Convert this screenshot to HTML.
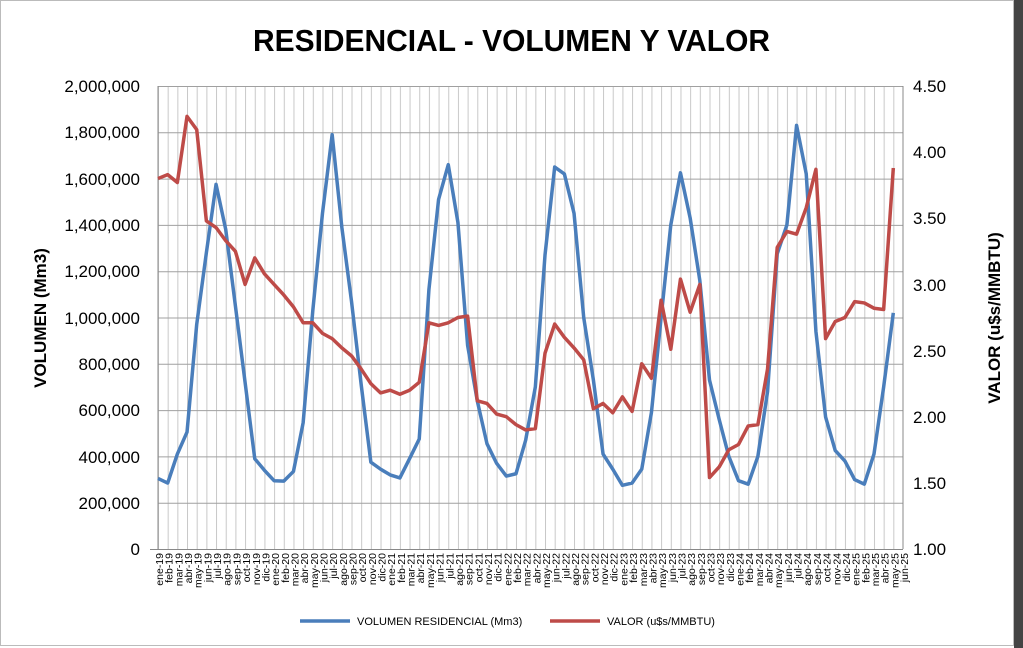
<!DOCTYPE html>
<html><head><meta charset="utf-8"><style>
body{margin:0;background:#fff}
svg{display:block;font-family:"Liberation Sans",sans-serif}
</style></head><body>
<svg width="1023" height="648" viewBox="0 0 1023 648" xmlns="http://www.w3.org/2000/svg">
<rect x="0" y="0" width="1023" height="648" fill="#fff"/>
<rect x="0.5" y="0.5" width="1013" height="645" fill="none" stroke="#bbb"/>
<rect x="1014" y="0" width="9" height="648" fill="#444"/>
<text x="253" y="51" textLength="517" lengthAdjust="spacingAndGlyphs" font-size="31" font-weight="bold" fill="#000">RESIDENCIAL - VOLUMEN Y VALOR</text>
<defs>
<pattern id="vg" x="158" y="0" width="9.6753" height="10" patternUnits="userSpaceOnUse">
<line x1="0.5" y1="0" x2="0.5" y2="10" stroke="#c8c8c8" stroke-width="1"/>
</pattern>
</defs>
<rect x="158" y="86" width="745" height="463" fill="url(#vg)"/>
<g stroke="#a0a0a0" stroke-width="1">
<line x1="158" y1="86.5" x2="903" y2="86.5"/>
<line x1="158" y1="132.8" x2="903" y2="132.8"/>
<line x1="158" y1="179.1" x2="903" y2="179.1"/>
<line x1="158" y1="225.4" x2="903" y2="225.4"/>
<line x1="158" y1="271.7" x2="903" y2="271.7"/>
<line x1="158" y1="318" x2="903" y2="318"/>
<line x1="158" y1="364.3" x2="903" y2="364.3"/>
<line x1="158" y1="410.6" x2="903" y2="410.6"/>
<line x1="158" y1="456.9" x2="903" y2="456.9"/>
<line x1="158" y1="503.2" x2="903" y2="503.2"/>
<line x1="150" y1="549.5" x2="903" y2="549.5" stroke="#888"/>
<line x1="158" y1="86" x2="158" y2="549" stroke="#888"/>
<line x1="903" y1="86" x2="903" y2="549" stroke="#888"/>
</g>
<g font-size="17" fill="#000" text-anchor="end">
<text x="140" y="92">2,000,000</text>
<text x="140" y="138">1,800,000</text>
<text x="140" y="185">1,600,000</text>
<text x="140" y="231">1,400,000</text>
<text x="140" y="277">1,200,000</text>
<text x="140" y="324">1,000,000</text>
<text x="140" y="370">800,000</text>
<text x="140" y="416">600,000</text>
<text x="140" y="463">400,000</text>
<text x="140" y="509">200,000</text>
<text x="140" y="555">0</text>
</g>
<g font-size="17" fill="#000" text-anchor="start">
<text x="913" y="92">4.50</text>
<text x="913" y="158">4.00</text>
<text x="913" y="224">3.50</text>
<text x="913" y="291">3.00</text>
<text x="913" y="357">2.50</text>
<text x="913" y="423">2.00</text>
<text x="913" y="489">1.50</text>
<text x="913" y="555">1.00</text>
</g>
<text transform="translate(46,318) rotate(-90)" text-anchor="middle" font-size="17" font-weight="bold">VOLUMEN (Mm3)</text>
<text transform="translate(1000,318) rotate(-90)" text-anchor="middle" font-size="17" font-weight="bold">VALOR (u$s/MMBTU)</text>
<g font-size="10.5" fill="#000" text-anchor="end">
<text transform="translate(163,553) rotate(-90)">ene-19</text>
<text transform="translate(172.7,553) rotate(-90)">feb-19</text>
<text transform="translate(182.4,553) rotate(-90)">mar-19</text>
<text transform="translate(192,553) rotate(-90)">abr-19</text>
<text transform="translate(201.7,553) rotate(-90)">may-19</text>
<text transform="translate(211.4,553) rotate(-90)">jun-19</text>
<text transform="translate(221,553) rotate(-90)">jul-19</text>
<text transform="translate(230.7,553) rotate(-90)">ago-19</text>
<text transform="translate(240.4,553) rotate(-90)">sep-19</text>
<text transform="translate(250.1,553) rotate(-90)">oct-19</text>
<text transform="translate(259.8,553) rotate(-90)">nov-19</text>
<text transform="translate(269.4,553) rotate(-90)">dic-19</text>
<text transform="translate(279.1,553) rotate(-90)">ene-20</text>
<text transform="translate(288.8,553) rotate(-90)">feb-20</text>
<text transform="translate(298.5,553) rotate(-90)">mar-20</text>
<text transform="translate(308.1,553) rotate(-90)">abr-20</text>
<text transform="translate(317.8,553) rotate(-90)">may-20</text>
<text transform="translate(327.5,553) rotate(-90)">jun-20</text>
<text transform="translate(337.2,553) rotate(-90)">jul-20</text>
<text transform="translate(346.8,553) rotate(-90)">ago-20</text>
<text transform="translate(356.5,553) rotate(-90)">sep-20</text>
<text transform="translate(366.2,553) rotate(-90)">oct-20</text>
<text transform="translate(375.9,553) rotate(-90)">nov-20</text>
<text transform="translate(385.5,553) rotate(-90)">dic-20</text>
<text transform="translate(395.2,553) rotate(-90)">ene-21</text>
<text transform="translate(404.9,553) rotate(-90)">feb-21</text>
<text transform="translate(414.6,553) rotate(-90)">mar-21</text>
<text transform="translate(424.2,553) rotate(-90)">abr-21</text>
<text transform="translate(433.9,553) rotate(-90)">may-21</text>
<text transform="translate(443.6,553) rotate(-90)">jun-21</text>
<text transform="translate(453.3,553) rotate(-90)">jul-21</text>
<text transform="translate(462.9,553) rotate(-90)">ago-21</text>
<text transform="translate(472.6,553) rotate(-90)">sep-21</text>
<text transform="translate(482.3,553) rotate(-90)">oct-21</text>
<text transform="translate(492,553) rotate(-90)">nov-21</text>
<text transform="translate(501.6,553) rotate(-90)">dic-21</text>
<text transform="translate(511.3,553) rotate(-90)">ene-22</text>
<text transform="translate(521,553) rotate(-90)">feb-22</text>
<text transform="translate(530.7,553) rotate(-90)">mar-22</text>
<text transform="translate(540.3,553) rotate(-90)">abr-22</text>
<text transform="translate(550,553) rotate(-90)">may-22</text>
<text transform="translate(559.7,553) rotate(-90)">jun-22</text>
<text transform="translate(569.4,553) rotate(-90)">jul-22</text>
<text transform="translate(579,553) rotate(-90)">ago-22</text>
<text transform="translate(588.7,553) rotate(-90)">sep-22</text>
<text transform="translate(598.4,553) rotate(-90)">oct-22</text>
<text transform="translate(608.1,553) rotate(-90)">nov-22</text>
<text transform="translate(617.7,553) rotate(-90)">dic-22</text>
<text transform="translate(627.4,553) rotate(-90)">ene-23</text>
<text transform="translate(637.1,553) rotate(-90)">feb-23</text>
<text transform="translate(646.8,553) rotate(-90)">mar-23</text>
<text transform="translate(656.4,553) rotate(-90)">abr-23</text>
<text transform="translate(666.1,553) rotate(-90)">may-23</text>
<text transform="translate(675.8,553) rotate(-90)">jun-23</text>
<text transform="translate(685.5,553) rotate(-90)">jul-23</text>
<text transform="translate(695.1,553) rotate(-90)">ago-23</text>
<text transform="translate(704.8,553) rotate(-90)">sep-23</text>
<text transform="translate(714.5,553) rotate(-90)">oct-23</text>
<text transform="translate(724.2,553) rotate(-90)">nov-23</text>
<text transform="translate(733.8,553) rotate(-90)">dic-23</text>
<text transform="translate(743.5,553) rotate(-90)">ene-24</text>
<text transform="translate(753.2,553) rotate(-90)">feb-24</text>
<text transform="translate(762.9,553) rotate(-90)">mar-24</text>
<text transform="translate(772.5,553) rotate(-90)">abr-24</text>
<text transform="translate(782.2,553) rotate(-90)">may-24</text>
<text transform="translate(791.9,553) rotate(-90)">jun-24</text>
<text transform="translate(801.6,553) rotate(-90)">jul-24</text>
<text transform="translate(811.2,553) rotate(-90)">ago-24</text>
<text transform="translate(820.9,553) rotate(-90)">sep-24</text>
<text transform="translate(830.6,553) rotate(-90)">oct-24</text>
<text transform="translate(840.3,553) rotate(-90)">nov-24</text>
<text transform="translate(849.9,553) rotate(-90)">dic-24</text>
<text transform="translate(859.6,553) rotate(-90)">ene-25</text>
<text transform="translate(869.3,553) rotate(-90)">feb-25</text>
<text transform="translate(879,553) rotate(-90)">mar-25</text>
<text transform="translate(888.6,553) rotate(-90)">abr-25</text>
<text transform="translate(898.3,553) rotate(-90)">may-25</text>
<text transform="translate(908,553) rotate(-90)">jun-25</text>
</g>
<polyline transform="translate(158,549) scale(9.6753,-0.2315)" vector-effect="non-scaling-stroke" fill="none" stroke="#4a7ebb" stroke-width="3.5" stroke-linejoin="round"
points="0,305 1,285 2,410 3,505 4,970 5,1280 6,1575 7,1380 8,1050 9,720 10,390 11,340 12,295 13,293 14,335 15,545 16,1030 17,1450 18,1790 19,1390 20,1070 21,710 22,375 23,345 24,320 25,307 26,390 27,475 28,1120 29,1510 30,1660 31,1410 32,880 33,640 34,455 35,370 36,315 37,325 38,470 39,700 40,1270 41,1650 42,1620 43,1450 44,1000 45,730 46,410 47,345 48,275 49,285 50,345 51,590 52,1000 53,1400 54,1625 55,1430 56,1160 57,730 58,560 59,400 60,295 61,280 62,400 63,680 64,1275 65,1400 66,1830 67,1620 68,940 69,570 70,425 71,380 72,300 73,280 74,410 75,700 76,1020"/>
<polyline transform="translate(158,681.3) scale(9.6753,-132.3)" vector-effect="non-scaling-stroke" fill="none" stroke="#be4b48" stroke-width="3.5" stroke-linejoin="round"
points="0,3.80 1,3.83 2,3.77 3,4.27 4,4.17 5,3.48 6,3.43 7,3.33 8,3.25 9,3.00 10,3.20 11,3.08 12,3.00 13,2.92 14,2.83 15,2.71 16,2.71 17,2.63 18,2.59 19,2.52 20,2.46 21,2.36 22,2.25 23,2.18 24,2.20 25,2.17 26,2.20 27,2.26 28,2.71 29,2.69 30,2.71 31,2.75 32,2.76 33,2.12 34,2.10 35,2.02 36,2.00 37,1.94 38,1.90 39,1.91 40,2.48 41,2.70 42,2.60 43,2.52 44,2.43 45,2.06 46,2.10 47,2.03 48,2.15 49,2.04 50,2.40 51,2.29 52,2.88 53,2.51 54,3.04 55,2.79 56,3.00 57,1.54 58,1.62 59,1.75 60,1.79 61,1.93 62,1.94 63,2.36 64,3.28 65,3.40 66,3.38 67,3.58 68,3.87 69,2.59 70,2.72 71,2.75 72,2.87 73,2.86 74,2.82 75,2.81 76,3.88"/>
<line x1="300" y1="621" x2="350" y2="621" stroke="#4a7ebb" stroke-width="3.5"/>
<text x="357" y="625" font-size="11">VOLUMEN RESIDENCIAL (Mm3)</text>
<line x1="550" y1="621" x2="600" y2="621" stroke="#be4b48" stroke-width="3.5"/>
<text x="607" y="625" font-size="11">VALOR (u$s/MMBTU)</text>
</svg>
</body></html>
